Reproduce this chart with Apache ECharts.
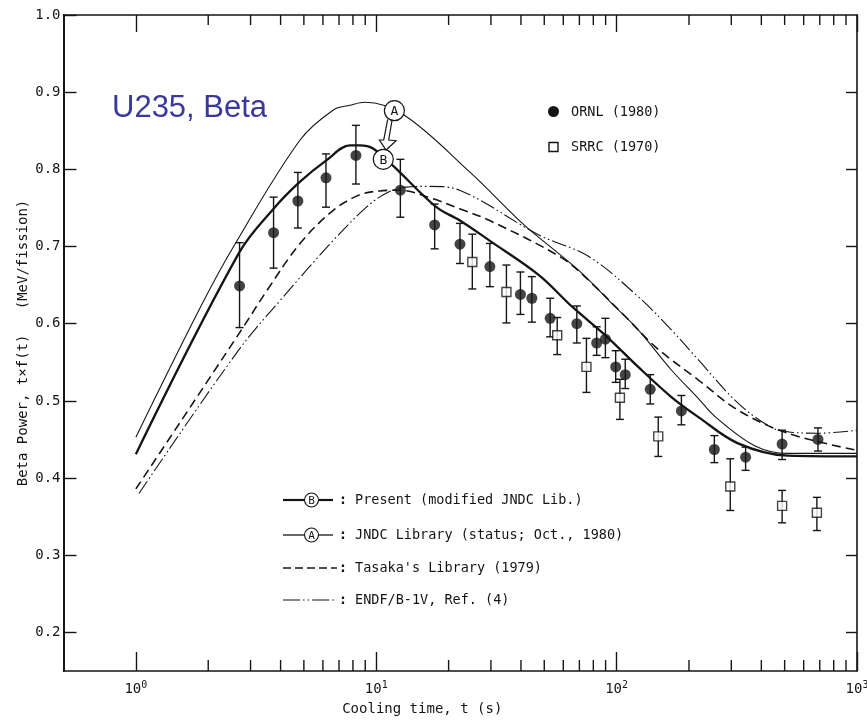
<!DOCTYPE html>
<html><head><meta charset="utf-8">
<script src="https://cdn.jsdelivr.net/npm/echarts@6/dist/echarts.min.js"></script>
<style>html,body{margin:0;padding:0;background:#fff}#c{width:867px;height:721px}</style>
</head><body><div id="c"></div>
<script>
// ---------- data ----------
// Curve B : Present (modified JNDC Lib.)
const presentT = [1, 2.7, 3.74, 4.82, 6.22, 7.77, 8.54, 9.7, 11.6, 12.1, 17.8, 22.2, 29.5, 47.5, 65.3, 89.8, 123, 169, 219, 320, 515, 1000];
const presentV = [0.431, 0.693, 0.749, 0.784, 0.812, 0.831, 0.831, 0.827, 0.806, 0.801, 0.751, 0.734, 0.708, 0.663, 0.622, 0.585, 0.544, 0.505, 0.479, 0.445, 0.429, 0.428];
// Curve A : JNDC Library (status; Oct., 1980)
const jndcT = [1, 1.86, 2.55, 4.82, 6.63, 7.77, 8.96, 13.1, 24.4, 39.3, 46.1, 69.6, 95.6, 123, 169, 219, 256, 375, 515, 1000];
const jndcV = [0.453, 0.622, 0.700, 0.838, 0.877, 0.883, 0.887, 0.870, 0.797, 0.734, 0.715, 0.669, 0.626, 0.592, 0.540, 0.503, 0.480, 0.442, 0.432, 0.432];
// Tasaka's Library (1979)
const tasakaT = [1, 2.75, 3.51, 4.82, 6.63, 8.54, 10.3, 12.5, 17.2, 22.2, 29.5, 59.4, 76.6, 109, 145, 219, 320, 515, 1000];
const tasakaV = [0.386, 0.592, 0.643, 0.704, 0.747, 0.767, 0.772, 0.773, 0.762, 0.749, 0.734, 0.685, 0.656, 0.609, 0.570, 0.527, 0.488, 0.458, 0.436];
// ENDF/B-IV, Ref. (4)
const endfT = [1.03, 2.68, 4.11, 6.63, 9.1, 11.0, 13.3, 16.7, 22.2, 47.5, 76.6, 123, 169, 219, 320, 438, 515, 686, 1000];
const endfV = [0.380, 0.566, 0.635, 0.708, 0.751, 0.769, 0.777, 0.778, 0.773, 0.715, 0.687, 0.635, 0.592, 0.553, 0.497, 0.466, 0.460, 0.458, 0.462];
// ORNL (1980) measurements
const ornlT  = [2.70, 3.74, 4.72, 6.18, 8.23, 12.6, 17.5, 22.3, 29.7, 39.8, 44.4, 52.9, 68.3, 82.6, 89.8, 99.1, 108.6, 138, 186, 255, 344, 488, 688];
const ornlV  = [0.649, 0.718, 0.759, 0.789, 0.818, 0.773, 0.728, 0.703, 0.674, 0.638, 0.633, 0.607, 0.600, 0.575, 0.580, 0.544, 0.534, 0.515, 0.487, 0.437, 0.427, 0.444, 0.450];
const ornlLo = [0.595, 0.672, 0.724, 0.751, 0.781, 0.738, 0.697, 0.678, 0.648, 0.612, 0.602, 0.583, 0.575, 0.559, 0.556, 0.524, 0.516, 0.496, 0.469, 0.420, 0.410, 0.424, 0.435];
const ornlHi = [0.705, 0.764, 0.796, 0.820, 0.857, 0.813, 0.755, 0.730, 0.704, 0.667, 0.661, 0.633, 0.623, 0.596, 0.607, 0.565, 0.554, 0.534, 0.507, 0.455, 0.440, 0.462, 0.465];
// SRRC (1970) measurements
const srrcT  = [25.1, 34.8, 56.6, 74.9, 103.2, 149, 297, 488, 681];
const srrcV  = [0.680, 0.641, 0.585, 0.544, 0.504, 0.454, 0.389, 0.364, 0.355];
const srrcLo = [0.645, 0.601, 0.560, 0.511, 0.476, 0.428, 0.358, 0.342, 0.332];
const srrcHi = [0.716, 0.676, 0.608, 0.581, 0.528, 0.479, 0.425, 0.384, 0.375];
// curve tags (circled letters) on the plot
const tagLabels = ['A', 'B'];
const tagT = [11.9, 10.7];
const tagV = [0.876, 0.813];
// ticks
const xMajorTicks = [1, 10, 100, 1000];
const xMinorMult = [2, 3, 4, 5, 6, 7, 8, 9];
const xMinorDecades = [1, 10, 100];
const yTicks = [0.2, 0.3, 0.4, 0.5, 0.6, 0.7, 0.8, 0.9, 1.0];
const legendNames = ['Present (modified JNDC Lib.)', 'JNDC Library (status; Oct., 1980)', "Tasaka's Library (1979)", 'ENDF/B-1V, Ref. (4)'];
const pointNames = ['ORNL (1980)', 'SRRC (1970)'];
const titleText = 'U235, Beta';
const xName = 'Cooling time, t (s)';
const yName = 'Beta Power, t\u00d7f(t)   (MeV/fission)';

// ---------- build ----------
const INK = '#151515';
const MONO = "'DejaVu Sans Mono', monospace";
const Y_MIN = 0.15, Y_MAX = 1.0;
const zip = (a, b) => a.map((v, i) => [v, b[i]]);
const zip3 = (a, b, c) => a.map((v, i) => [v, b[i], c[i]]);
const xMinorTicks = [];
xMinorDecades.forEach(d => xMinorMult.forEach(m => xMinorTicks.push(m * d)));

function errRender(capW) {
  return function (params, api) {
    const x = api.value(0);
    const lo = api.coord([x, api.value(1)]);
    const hi = api.coord([x, api.value(2)]);
    const s = { stroke: INK, lineWidth: 1.4 };
    return { type: 'group', children: [
      { type: 'line', shape: { x1: lo[0], y1: lo[1], x2: hi[0], y2: hi[1] }, style: s },
      { type: 'line', shape: { x1: lo[0] - capW / 2, y1: lo[1], x2: lo[0] + capW / 2, y2: lo[1] }, style: s },
      { type: 'line', shape: { x1: hi[0] - capW / 2, y1: hi[1], x2: hi[0] + capW / 2, y2: hi[1] }, style: s }
    ]};
  };
}

// minor log ticks (2..9 per decade), bottom and top, placed through the axis scale
function minorTickRender(params, api) {
  const b = api.coord([api.value(0), Y_MIN]);
  const t = api.coord([api.value(0), Y_MAX]);
  const s = { stroke: INK, lineWidth: 1.4 };
  return { type: 'group', children: [
    { type: 'line', shape: { x1: b[0], y1: b[1], x2: b[0], y2: b[1] - 11 }, style: s },
    { type: 'line', shape: { x1: t[0], y1: t[1], x2: t[0], y2: t[1] + 10 }, style: s }
  ]};
}

function tagRender(params, api) {
  const p = api.coord([api.value(0), api.value(1)]);
  const ch = [
    { type: 'circle', shape: { cx: p[0], cy: p[1], r: 10 }, style: { fill: '#fff', stroke: INK, lineWidth: 1.2 } },
    { type: 'text', style: { text: tagLabels[params.dataIndex], x: p[0], y: p[1] + 1, align: 'center', verticalAlign: 'middle', font: '13px ' + MONO, fill: INK } }
  ];
  if (params.dataIndex === 0) {
    const o = [[-6.7, 8.6], [-10.7, 29.3], [-15, 29.3], [-8.3, 39.3], [1.7, 30], [-5.7, 29.3], [-2.3, 9.3]];
    ch.unshift({ type: 'polyline', shape: { points: o.map(q => [p[0] + q[0], p[1] + q[1]]) }, style: { fill: '#fff', stroke: INK, lineWidth: 1.2 } });
  }
  return { type: 'group', children: ch };
}

const axLine = { show: true, lineStyle: { color: INK, width: 1.6 } };
const tickStyle = { color: INK, width: 1.4 };

const xAxes = [
  { type: 'log', logBase: 10, min: 0.5, max: 1000, position: 'bottom',
    axisLine: axLine, splitLine: { show: false }, minorTick: { show: false },
    axisTick: { show: true, inside: true, length: 19, customValues: xMajorTicks, lineStyle: tickStyle },
    axisLabel: { show: true, customValues: xMajorTicks, margin: 9,
      formatter: v => '{b|10}{s|' + Math.round(Math.log10(v)) + '}',
      rich: { b: { fontFamily: MONO, fontSize: 14, color: INK }, s: { fontFamily: MONO, fontSize: 10, color: INK, padding: [0, 0, 9, 0] } } },
    name: xName, nameLocation: 'middle', nameGap: 31, nameMoveOverlap: false,
    nameTextStyle: { fontFamily: MONO, fontSize: 14, color: INK, padding: [0, 76, 0, 0] } },
  { type: 'log', logBase: 10, min: 0.5, max: 1000, position: 'top',
    axisLine: axLine, splitLine: { show: false }, axisLabel: { show: false }, minorTick: { show: false },
    axisTick: { show: true, inside: true, length: 17, customValues: xMajorTicks, lineStyle: tickStyle } }
];
const yAxes = [
  { type: 'value', min: Y_MIN, max: Y_MAX, position: 'left',
    axisLine: { show: true, lineStyle: { color: INK, width: 2 } }, splitLine: { show: false },
    axisTick: { show: true, inside: true, length: 13, customValues: yTicks, lineStyle: tickStyle },
    axisLabel: { show: true, customValues: yTicks, margin: 3, formatter: v => v.toFixed(1), fontFamily: MONO, fontSize: 14, color: INK },
    name: yName, nameLocation: 'middle', nameGap: 33, nameRotate: 90, nameMoveOverlap: false,
    nameTextStyle: { fontFamily: MONO, fontSize: 14, color: INK } },
  { type: 'value', min: Y_MIN, max: Y_MAX, position: 'right',
    axisLine: axLine, splitLine: { show: false }, axisLabel: { show: false },
    axisTick: { show: true, inside: true, length: 11, customValues: yTicks.slice(0, 8), lineStyle: tickStyle } }
];

const lineBase = { type: 'line', showSymbol: false, symbol: 'none', smooth: 0.35, xAxisIndex: 0, yAxisIndex: 0, z: 2, silent: true };
const series = [
  { type: 'custom', name: 'minor ticks', xAxisIndex: 0, yAxisIndex: 0, z: 1, silent: true, clip: false,
    data: xMinorTicks.map(v => [v]), encode: { x: 0 }, renderItem: minorTickRender },
  Object.assign({}, lineBase, { name: legendNames[1], data: zip(jndcT, jndcV), lineStyle: { color: INK, width: 1.1 } }),
  Object.assign({}, lineBase, { name: legendNames[0], data: zip(presentT, presentV), lineStyle: { color: INK, width: 2.3 } }),
  Object.assign({}, lineBase, { name: legendNames[2], data: zip(tasakaT, tasakaV), lineStyle: { color: INK, width: 1.6, type: [9, 5] } }),
  Object.assign({}, lineBase, { name: legendNames[3], data: zip(endfT, endfV), lineStyle: { color: INK, width: 1.1, type: [15, 3, 1.6, 3, 1.6, 3] } }),
  { type: 'custom', name: pointNames[0] + ' err', xAxisIndex: 0, yAxisIndex: 0, z: 3, silent: true,
    data: zip3(ornlT, ornlLo, ornlHi), encode: { x: 0, y: [1, 2] }, renderItem: errRender(8) },
  { type: 'custom', name: pointNames[1] + ' err', xAxisIndex: 0, yAxisIndex: 0, z: 3, silent: true,
    data: zip3(srrcT, srrcLo, srrcHi), encode: { x: 0, y: [1, 2] }, renderItem: errRender(8) },
  { type: 'scatter', name: pointNames[0], xAxisIndex: 0, yAxisIndex: 0, z: 4, silent: true,
    data: zip(ornlT, ornlV), symbol: 'circle', symbolSize: 11, itemStyle: { color: INK } },
  { type: 'scatter', name: pointNames[1], xAxisIndex: 0, yAxisIndex: 0, z: 4, silent: true,
    data: zip(srrcT, srrcV), symbol: 'rect', symbolSize: 9, itemStyle: { color: '#fff', borderColor: INK, borderWidth: 1.4 } },
  { type: 'custom', name: 'tags', xAxisIndex: 0, yAxisIndex: 0, z: 5, silent: true,
    data: zip(tagT, tagV), renderItem: tagRender }
];

// legend graphics
const g = [];
g.push({ type: 'text', left: 112, top: 93, style: { text: titleText, font: '31px "Liberation Sans", Arial, sans-serif', fill: '#38399b' } });
g.push({ type: 'circle', shape: { cx: 553.5, cy: 111.5, r: 5.5 }, style: { fill: INK } });
g.push({ type: 'text', x: 571, y: 112, style: { text: pointNames[0], font: '13.5px ' + MONO, fill: INK, verticalAlign: 'middle' } });
g.push({ type: 'rect', shape: { x: 549, y: 142.5, width: 9, height: 9 }, style: { fill: '#fff', stroke: INK, lineWidth: 1.4 } });
g.push({ type: 'text', x: 571, y: 147, style: { text: pointNames[1], font: '13.5px ' + MONO, fill: INK, verticalAlign: 'middle' } });
const rowY = [500, 535, 568, 600];
const rowLetters = ['B', 'A'];
rowY.forEach((y, i) => {
  if (i < 2) {
    const w = i === 0 ? 2.2 : 1.3;
    g.push({ type: 'line', shape: { x1: 283, y1: y, x2: 305, y2: y }, style: { stroke: INK, lineWidth: w } });
    g.push({ type: 'line', shape: { x1: 318, y1: y, x2: 333, y2: y }, style: { stroke: INK, lineWidth: w } });
    g.push({ type: 'circle', shape: { cx: 311.5, cy: y, r: 7 }, style: { fill: '#fff', stroke: INK, lineWidth: 1.1 } });
    g.push({ type: 'text', x: 311.5, y: y + 1, style: { text: rowLetters[i], font: '11px ' + MONO, fill: INK, align: 'center', verticalAlign: 'middle' } });
  } else if (i === 2) {
    g.push({ type: 'line', shape: { x1: 283, y1: y, x2: 337, y2: y }, style: { stroke: INK, lineWidth: 1.5, lineDash: [8, 4] } });
  } else {
    g.push({ type: 'line', shape: { x1: 283, y1: y, x2: 337, y2: y }, style: { stroke: INK, lineWidth: 1.2, lineDash: [17, 3, 1.6, 3, 1.6, 3] } });
  }
  g.push({ type: 'text', x: 343, y: y, style: { text: ':', font: 'bold 14px ' + MONO, fill: INK, align: 'center', verticalAlign: 'middle' } });
  g.push({ type: 'text', x: 355, y: y, style: { text: legendNames[i], font: '13.5px ' + MONO, fill: INK, verticalAlign: 'middle' } });
});

const chart = echarts.init(document.getElementById('c'), null, { renderer: 'canvas' });
chart.setOption({
  animation: false,
  backgroundColor: '#fff',
  grid: { left: 63.5, right: 10, top: 15, bottom: 50, containLabel: false, outerBoundsMode: 'none' },
  xAxis: xAxes,
  yAxis: yAxes,
  series: series,
  graphic: g
});
</script>
</body></html>
